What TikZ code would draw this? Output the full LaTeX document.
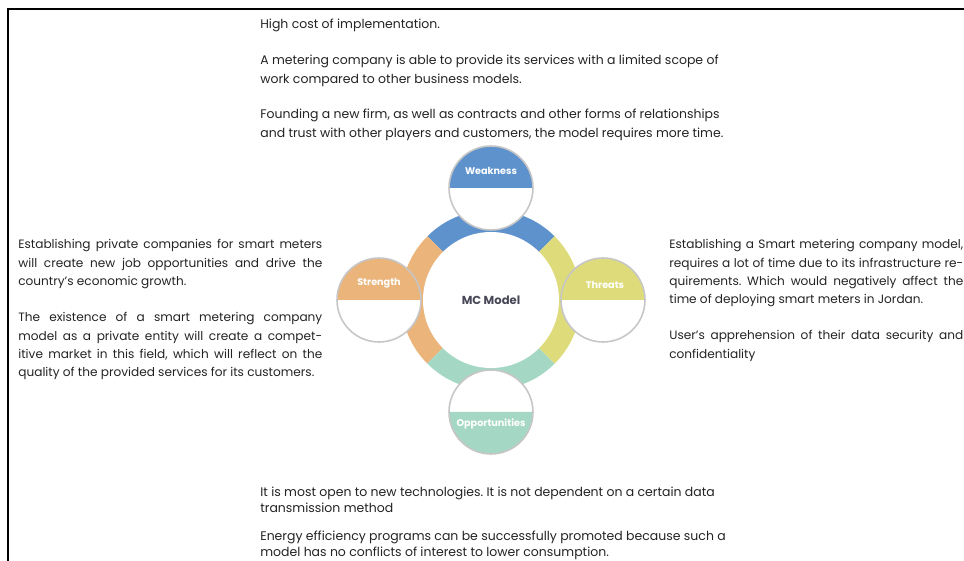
\documentclass[tikz,border=0pt]{standalone}
\usepackage{fontspec}
\setmainfont{Poppins}
\usetikzlibrary{positioning}
\frenchspacing

\definecolor{weakblue}{RGB}{94,146,205}
\definecolor{strorange}{RGB}{234,180,122}
\definecolor{thryellow}{RGB}{222,220,122}
\definecolor{oppgreen}{RGB}{165,216,196}
\definecolor{modelgray}{RGB}{72,72,88}
\definecolor{bodytext}{RGB}{35,35,35}

\tikzset{
  swotcirc/.style={draw=gray!45,line width=0.9pt},
  swotlabel/.style={text=white,inner sep=0pt,font=\fontsize{5.5}{6}\selectfont\bfseries},
  bodytxt/.style={anchor=north west,inner sep=0pt,text=bodytext,font=\fontsize{7.1}{10.8}\selectfont},
}

\begin{document}
\begin{tikzpicture}[x=0.02cm,y=0.02cm]
    \useasboundingbox (0,0) rectangle (964,561);
    % Rahmen oben und links
    \draw[line width=1.1pt] (8,0) -- (8,552) -- (964,552);

    % Ring um das Modell, vier Viertel
    \coordinate (mc) at (491,261);
    \foreach \a/\c in {45/weakblue,135/strorange,225/oppgreen,315/thryellow}{
      \fill[\c] (mc) -- ++(\a:90) arc (\a:\a+90:90) -- cycle;
    }
    \fill[white] (mc) circle (68);
    \node[text=modelgray,font=\fontsize{6.6}{7}\selectfont\bfseries] (model) at (mc) {MC Model};

    % kleine Kreise, farbige Haelfte nach aussen
    \foreach \n/\x/\y/\c/\e in {weak/491/373/weakblue/180,str/379/261/strorange/180,
                                thr/603/261/thryellow/180,opp/491/149/oppgreen/-180}{
      \coordinate (\n) at (\x,\y);
      \fill[white] (\n) circle (42);
      \fill[\c] (\n) ++(42,0) arc (0:\e:42) -- cycle;
    }
    \foreach \n in {weak,str,thr,opp}
      \draw[swotcirc] (\n) circle (42);
    \node[swotlabel] (weaklbl) at (491,390) {Weakness};
    \node[swotlabel] (strlbl) at (379,278) {Strength};
    \node[swotlabel] (thrlbl) at (605,276) {Threats};
    \node[swotlabel] (opplbl) at (491,137) {Opportunities};

    % Schwaechen (oben)
    \node[bodytxt,align=left] (w1) at (260,542) {High cost of implementation.};
    \node[bodytxt,align=left] (w2) at (260,506) {A metering company is able to provide its services with a limited scope of\\
      work compared to other business models.};
    \node[bodytxt,align=left] (w3) at (260,452) {Founding a new firm, as well as contracts and other forms of relationships\\
      and trust with other players and customers, the model requires more time.};

    % Staerken (links)
    \node[bodytxt,text width=6.08cm,align=justify,font=\fontsize{6.9}{10.5}\selectfont] (s1) at (18,322)
      {Establishing private companies for smart meters\linebreak
       will create new job opportunities and drive the\linebreak
       country's economic growth.};
    \node[bodytxt,text width=6.08cm,align=justify,font=\fontsize{6.9}{10.5}\selectfont] (s2) at (18,249)
      {The existence of a smart metering company\linebreak
       model as a private entity will create a compet-\linebreak
       itive market in this field, which will reflect on the\linebreak
       quality of the provided services for its customers.};

    % Risiken (rechts)
    \node[bodytxt,text width=5.88cm,align=justify,font=\fontsize{6.9}{10.5}\selectfont] (t1) at (669,322)
      {Establishing a Smart metering company model,\linebreak
       requires a lot of time due to its infrastructure re-\linebreak
       quirements. Which would negatively affect the\linebreak
       time of deploying smart meters in Jordan.};
    \node[bodytxt,text width=5.88cm,align=justify,font=\fontsize{6.9}{10.5}\selectfont] (t2) at (669,231)
      {User's apprehension of their data security and\linebreak
       confidentiality};

    % Chancen (unten)
    \node[bodytxt,align=left,font=\fontsize{7.1}{9.1}\selectfont] (o1) at (260,74)
      {It is most open to new technologies. It is not dependent on a certain data\\
       transmission method};
    \node[bodytxt,align=left,font=\fontsize{7.1}{9.1}\selectfont] (o2) at (260,30)
      {Energy efficiency programs can be successfully promoted because such a\\
       model has no conflicts of interest to lower consumption.};
\end{tikzpicture}
\end{document}
